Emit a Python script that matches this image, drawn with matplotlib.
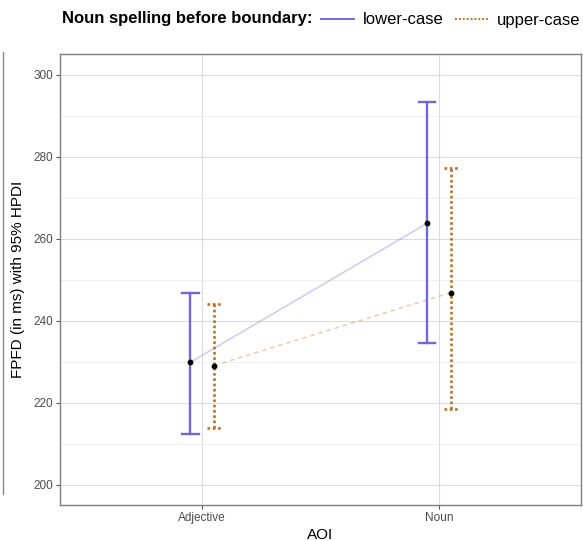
import matplotlib
matplotlib.use("Agg")
import matplotlib.pyplot as plt
from matplotlib.lines import Line2D
import numpy as np

plt.rcParams['font.family'] = ['Liberation Sans', 'DejaVu Sans']

aoi = ["Adjective", "Noun"]
spelling = ["lower-case", "upper-case"]
means = {"lower-case": [229.8, 263.7], "upper-case": [229.0, 246.8]}
lower = {"lower-case": [212.2, 234.4], "upper-case": [213.9, 218.3]}
upper = {"lower-case": [246.8, 293.2], "upper-case": [244.1, 277.3]}
yticks = [200, 220, 240, 260, 280, 300]

colors = {"lower-case": "#7468D6", "upper-case": "#B5742C"}
err_style = {"lower-case": "-", "upper-case": (0, (1, 1))}
conn_style = {"lower-case": "-", "upper-case": (0, (3, 2.5))}
offsets = {"lower-case": -0.05, "upper-case": 0.05}
capw = {"lower-case": 0.035, "upper-case": 0.03}
errw = {"lower-case": 1.7, "upper-case": 1.9}

fig = plt.figure(figsize=(5.83, 5.41), dpi=100)
ax = fig.add_axes([60/583, 1-505/541, 521/583, 451/541])

x = np.arange(len(aoi)) + 1.0
for s in spelling:
    xs = x + offsets[s]
    m = np.array(means[s]); lo = np.array(lower[s]); hi = np.array(upper[s])
    ax.plot(xs, m, color=colors[s], alpha=0.35, lw=1.1, ls=conn_style[s], zorder=2)
    for xi, l, h in zip(xs, lo, hi):
        ax.plot([xi, xi], [l, h], color=colors[s], lw=errw[s], ls=err_style[s], zorder=3)
        for yv in (l, h):
            ax.plot([xi - capw[s], xi + capw[s]], [yv, yv], color=colors[s], lw=errw[s],
                    ls=err_style[s], zorder=3)
    ax.scatter(xs, m, s=10, color="black", zorder=4)

ax.set_xlim(0.4, 2.6)
ax.set_ylim(195, 305)
ax.set_xticks(x)
ax.set_xticklabels(aoi)
ax.set_yticks(yticks)
ax.set_yticks([210, 230, 250, 270, 290], minor=True)
ax.grid(True, which="major", color="#DCDCDC", lw=0.8)
ax.grid(True, which="minor", axis="y", color="#EDEDED", lw=0.6)
ax.set_axisbelow(True)
ax.tick_params(axis="both", which="major", length=3, width=0.8, color="#555555",
               labelsize=8.5, labelcolor="#4D4D4D", pad=2)
ax.tick_params(axis="y", which="minor", length=0)
for sp in ax.spines.values():
    sp.set_color("#7F7F7F")
    sp.set_linewidth(1.0)
ax.set_xlabel("AOI", fontsize=11, labelpad=3)
ax.set_ylabel("FPFD (in ms) with 95% HPDI", fontsize=11, labelpad=6)

# legend across the top
fig.text(62/583, 1-18/541, "Noun spelling before boundary:", fontsize=12,
         fontweight="bold", va="center", ha="left")
handles = [Line2D([], [], color=colors[s], lw=1.4, ls=err_style[s]) for s in spelling]
fig.legend(handles, spelling, loc="center left", bbox_to_anchor=(321/583, 1-20/541),
           ncol=2, frameon=False, fontsize=12, handlelength=2.0, handletextpad=0.5,
           columnspacing=0.7, borderaxespad=0, borderpad=0)

# thin rule at the left edge
fig.add_artist(Line2D([2.5/583, 2.5/583], [1-52/541, 1-494/541], color="#8A8A8A", lw=1.0))

fig.savefig("out.png", dpi=100)
